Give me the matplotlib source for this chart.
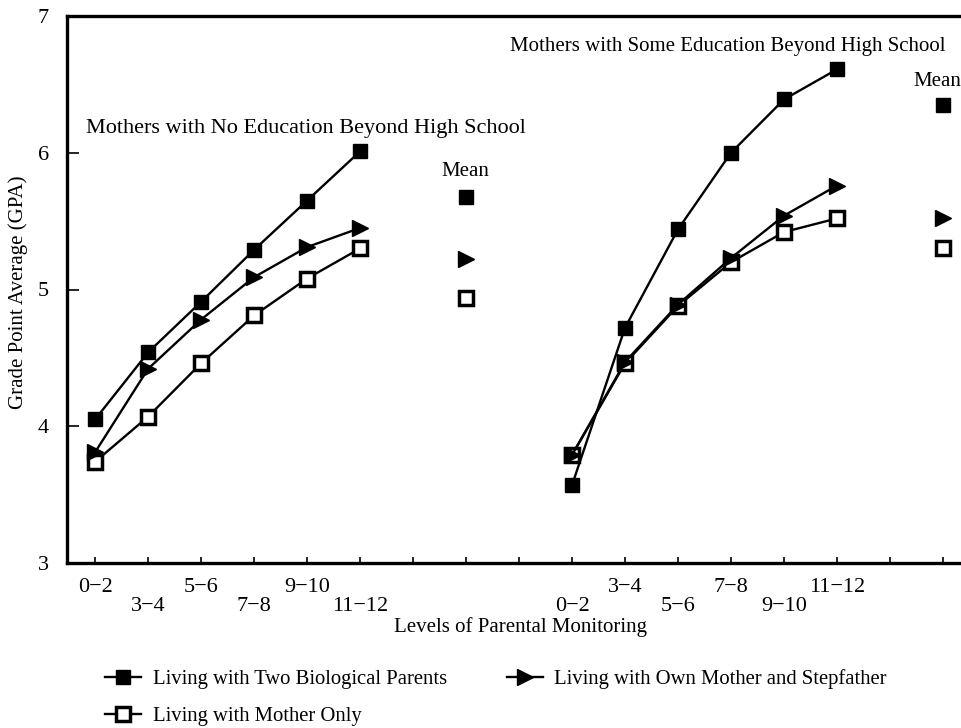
import matplotlib
matplotlib.use('Agg')
import matplotlib.pyplot as plt
from matplotlib.lines import Line2D

plt.rcParams['font.family'] = ['Liberation Serif', 'DejaVu Serif']

# ---- data ----
levels = ["0\u22122", "3\u22124", "5\u22126", "7\u22128", "9\u221210", "11\u221212"]
x_no_ed = [0, 1, 2, 3, 4, 5]
x_some_ed = [9, 10, 11, 12, 13, 14]
x_mean_no_ed = 7
x_mean_some_ed = 16
n_ticks = 17

no_ed_two_bio = [4.05, 4.54, 4.91, 5.29, 5.65, 6.01]
no_ed_stepfather = [3.81, 4.42, 4.78, 5.09, 5.31, 5.45]
no_ed_mother_only = [3.74, 4.07, 4.46, 4.81, 5.08, 5.30]

some_ed_two_bio = [3.57, 4.72, 5.44, 6.00, 6.39, 6.61]
some_ed_stepfather = [3.79, 4.47, 4.89, 5.23, 5.54, 5.76]
some_ed_mother_only = [3.79, 4.46, 4.88, 5.20, 5.42, 5.52]

# means: two biological, stepfather, mother only
mean_no_ed = [5.68, 5.22, 4.94]
mean_some_ed = [6.35, 5.52, 5.30]

series_names = ["Living with Two Biological Parents",
                "Living with Own Mother and Stepfather",
                "Living with Mother Only"]

# label rows (staggered tick labels)
no_ed_rows = ['upper', 'lower', 'upper', 'lower', 'upper', 'lower']
some_ed_rows = ['lower', 'upper', 'lower', 'upper', 'lower', 'upper']

# ---- figure ----
fig = plt.figure(figsize=(9.61, 7.28), dpi=100)
W, H = 961, 728
ax = fig.add_axes([67 / W, 1 - 563 / H, 1 - 67 / W, (563 - 16) / H])

styles = [
    dict(marker='s', markersize=10, markerfacecolor='black', markeredgecolor='black'),
    dict(marker='>', markersize=11, markerfacecolor='black', markeredgecolor='black'),
    dict(marker='s', markersize=9.5, markerfacecolor='white', markeredgecolor='black',
         markeredgewidth=2.5),
]
zorders = [5, 4, 3]

groups = [
    (x_no_ed, [no_ed_two_bio, no_ed_stepfather, no_ed_mother_only]),
    (x_some_ed, [some_ed_two_bio, some_ed_stepfather, some_ed_mother_only]),
]
for xs, ser in groups:
    for ys, st, z in zip(ser, styles, zorders):
        ax.plot(xs, ys, color='black', linewidth=1.7, zorder=z, **st)

for xm, means in [(x_mean_no_ed, mean_no_ed), (x_mean_some_ed, mean_some_ed)]:
    for v, st in zip(means, styles):
        ax.plot([xm], [v], linestyle='none', zorder=3, clip_on=False, **st)

ax.set_xlim(-0.53, 16.34)
ax.set_ylim(3, 7)

# spines
for s in ['left', 'bottom', 'top']:
    ax.spines[s].set_linewidth(2.4)
ax.spines['right'].set_visible(False)

# x ticks: major = upper row (and unlabeled), minor = lower row
major_pos, major_lab, minor_pos, minor_lab = [], [], [], []
labelled = {}
for xs, rows in [(x_no_ed, no_ed_rows), (x_some_ed, some_ed_rows)]:
    for x, r, lab in zip(xs, rows, levels):
        labelled[x] = (r, lab)
for p in range(n_ticks):
    if p in labelled:
        r, lab = labelled[p]
        if r == 'upper':
            major_pos.append(p); major_lab.append(lab)
        else:
            minor_pos.append(p); minor_lab.append(lab)
    else:
        major_pos.append(p); major_lab.append('')

ax.set_xticks(major_pos)
ax.set_xticklabels(major_lab)
ax.set_xticks(minor_pos, minor=True)
ax.set_xticklabels(minor_lab, minor=True)
ax.tick_params(axis='x', which='major', direction='in', length=4.5, width=1.2,
               pad=11, labelsize=16)
ax.tick_params(axis='x', which='minor', direction='in', length=4.5, width=1.2,
               pad=24.5, labelsize=16)

ax.set_yticks([3, 4, 5, 6, 7])
ax.set_yticklabels(['3', '4', '5', '6', '7'])
ax.tick_params(axis='y', direction='in', length=8.5, width=1.2, pad=13, labelsize=16)

ax.set_ylabel("Grade Point Average (GPA)", fontsize=15)
ax.yaxis.set_label_coords(-0.044, 0.495)
ax.set_xlabel("Levels of Parental Monitoring", fontsize=15)
ax.xaxis.set_label_coords(0.507, -0.099)

ax.text(-0.17, 6.18, "Mothers with No Education Beyond High School",
        fontsize=16, ha='left', va='center')
ax.text(7.83, 6.78, "Mothers with Some Education Beyond High School",
        fontsize=15, ha='left', va='center')
ax.text(6.98, 5.86, "Mean", fontsize=15, ha='center', va='center')
ax.text(15.90, 6.52, "Mean", fontsize=15, ha='center', va='center', clip_on=False)

# legend
handles = [Line2D([0], [0], color='black', linewidth=1.7, **st) for st in styles]
order = [0, 2, 1]
fig.legend([handles[i] for i in order], [series_names[i] for i in order],
           ncol=2, loc='upper left', bbox_to_anchor=(105 / W, 1 - 669 / H),
           frameon=False, fontsize=14.9, handlelength=1.75, handletextpad=0.55,
           columnspacing=2.9, labelspacing=0.85, borderpad=0, borderaxespad=0)

fig.savefig('out.png', dpi=100)
